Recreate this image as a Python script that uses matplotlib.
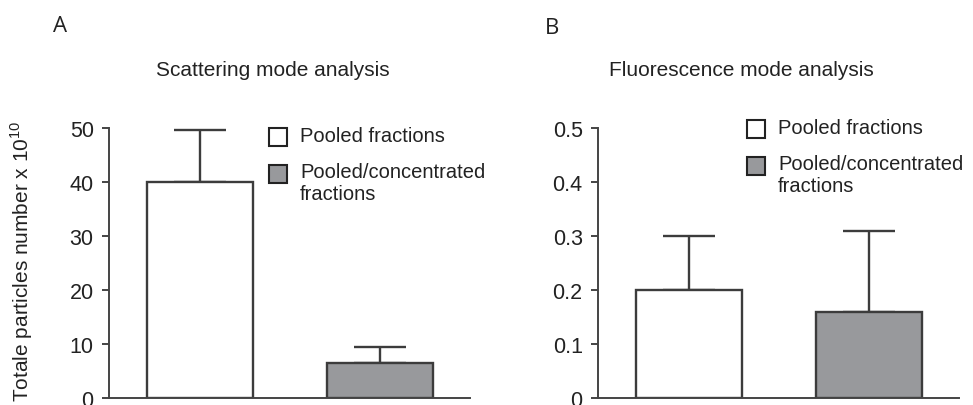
import matplotlib
matplotlib.use('Agg')
import matplotlib.pyplot as plt
from matplotlib.patches import Rectangle

plt.rcParams['font.family'] = ['Liberation Sans', 'DejaVu Sans']
plt.rcParams['mathtext.fontset'] = 'custom'
plt.rcParams['mathtext.rm'] = 'Liberation Sans'
plt.rcParams['font.size'] = 14

# data
groups = ['Pooled fractions', 'Pooled/concentrated\nfractions']
scatter_mean = [40, 6.4]
scatter_err = [9.7, 3.0]
fluo_mean = [0.2, 0.16]
fluo_err = [0.1, 0.15]
scatter_ticks = [0, 10, 20, 30, 40, 50]
fluo_ticks = [0, 0.1, 0.2, 0.3, 0.4, 0.5]
fluo_ticklabels = ['0', '0.1', '0.2', '0.3', '0.4', '0.5']

xpos = [1, 2.7]
colors = ['white', '#98999c']
EDGE = '#3c3c3c'

fig = plt.figure(figsize=(9.73, 4.06), dpi=100)
ax1 = fig.add_axes([109/973, 7/406, 361/973, 270/406])
ax2 = fig.add_axes([598/973, 7/406, 361/973, 270/406])


def draw_panel(ax, means, errs, top, ticks, ticklabels, leg_x, leg_y):
    ax.bar(xpos, means, width=1, color=colors, edgecolor=EDGE, linewidth=1.7, zorder=2)
    ax.errorbar(xpos, means, yerr=[[0, 0], errs], fmt='none', ecolor=EDGE,
                elinewidth=1.7, capsize=19, capthick=1.7, zorder=1)
    ax.set_xlim(0.142, 3.548)
    ax.set_ylim(0, top)
    ax.set_xticks([])
    ax.set_yticks(ticks)
    ax.set_yticklabels(ticklabels)
    for s in ['top', 'right']:
        ax.spines[s].set_visible(False)
    for s in ['left', 'bottom']:
        ax.spines[s].set_color('#444444')
        ax.spines[s].set_linewidth(1.4)
    ax.tick_params(axis='y', length=5, width=1.4, color='#444444', pad=6,
                   labelsize=15.5, labelcolor='#222222')
    # legend boxes
    for i, (lab, col) in enumerate(zip(groups, colors)):
        y = leg_y - i * 36.5 / 270
        ax.add_patch(Rectangle((leg_x, y - 9/270), 18/361, 18/270, transform=ax.transAxes,
                               facecolor=col, edgecolor='#222222', linewidth=1.5, clip_on=False))
        ax.text(leg_x + 31/361, y + 11/270, lab, transform=ax.transAxes, ha='left', va='top',
                fontsize=14.5, color='#222222', linespacing=1.2)


draw_panel(ax1, scatter_mean, scatter_err, 50, scatter_ticks, [str(t) for t in scatter_ticks],
           0.443, (400-139)/270)
draw_panel(ax2, fluo_mean, fluo_err, 0.5, fluo_ticks, fluo_ticklabels,
           0.413, (400-131)/270)

ax1.set_ylabel('Totale particles number x 10$^{10}$', fontsize=15, color='#222222')
ax1.yaxis.set_label_coords(-0.205, 0.51)

fig.text(273/973, 1 - 70/406, 'Scattering mode analysis', ha='center', va='center',
         fontsize=15, color='#222222')
fig.text(741/973, 1 - 70/406, 'Fluorescence mode analysis', ha='center', va='center',
         fontsize=15, color='#222222')
fig.text(53/973, 1 - 26/406, 'A', ha='left', va='center', fontsize=16,
         family='Open Sans', color='#222222')
fig.text(545/973, 1 - 28/406, 'B', ha='left', va='center', fontsize=16,
         family='Open Sans', color='#222222')

fig.savefig('out.png', dpi=100, facecolor='white')
